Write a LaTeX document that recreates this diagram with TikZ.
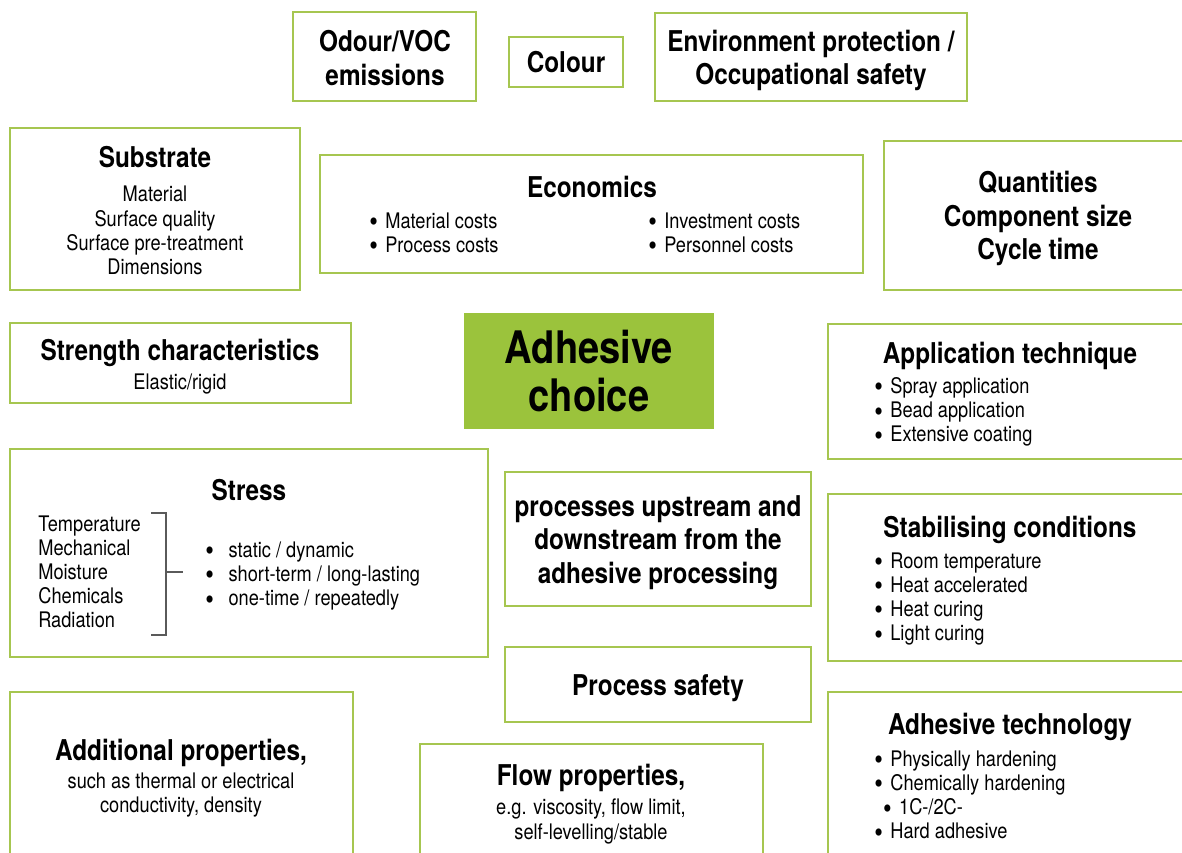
\documentclass[tikz,border=0pt]{standalone}
\usepackage{fontspec}
\setmainfont{TeX Gyre Heros}[FakeStretch=0.85]
\usetikzlibrary{fit}
\definecolor{boxgreen}{RGB}{166,198,80}
\definecolor{fillgreen}{RGB}{155,195,60}
\definecolor{bracketgray}{RGB}{90,90,90}
\newcommand{\mytitlefont}{\fontsize{16.3}{18.9}\selectfont\bfseries}
\newcommand{\mybodyfont}{\fontsize{12.2}{13.75}\selectfont}
\newcommand{\mybigfont}{\fontsize{25.5}{27.2}\selectfont\bfseries}
\newcommand{\mybul}{\smash{\raisebox{-0.3ex}{\scalebox{1.35}{\textbullet}}}}
\newcommand{\bsp}{\hspace{4.2pt}}
\tikzset{
  box/.style={draw=boxgreen, line width=1.1pt, inner sep=0pt},
  fillbox/.style={fill=fillgreen, inner sep=0pt},
  ttl/.style={font=\mytitlefont, align=center, inner sep=0pt},
  big/.style={font=\mybigfont, align=center, inner sep=0pt},
  txt/.style={font=\mybodyfont, align=center, inner sep=0pt},
  lst/.style={font=\mybodyfont, align=left, anchor=west, inner sep=0pt},
  bracket/.style={draw=bracketgray, line width=0.7pt},
}
\begin{document}
\begin{tikzpicture}[x=0.02cm,y=-0.02cm]
\useasboundingbox (0,0) rectangle (1182,852);
\clip (0,0) rectangle (1182,852);
% boxes
\node[box, fit={(293,12) (476,101)}] (odour) {};
\node[box, fit={(509,37) (623,87)}] (colour) {};
\node[box, fit={(655,13) (967,101)}] (env) {};
\node[box, fit={(10,128) (300,290)}] (substrate) {};
\node[box, fit={(320,155) (863,273)}] (econ) {};
\node[box, fit={(884,141) (1195,290)}] (quant) {};
\node[box, fit={(10,323) (351,403)}] (strength) {};
\node[fillbox, fit={(464,313) (714,429)}] (choice) {};
\node[box, fit={(828,324) (1195,459)}] (appl) {};
\node[box, fit={(10,449) (488,657)}] (stress) {};
\node[box, fit={(505,472) (811,606)}] (proc) {};
\node[box, fit={(828,494) (1195,661)}] (stab) {};
\node[box, fit={(505,647) (811,722)}] (safety) {};
\node[box, fit={(828,692) (1195,870)}] (adtech) {};
\node[box, fit={(10,692) (353,870)}] (addprop) {};
\node[box, fit={(420,744) (763,870)}] (flow) {};
% texts
\node[ttl] (odourT) at (385,58) {Odour/VOC\\emissions};
\node[ttl] (colourT) at (566,62) {Colour};
\node[ttl] (envT) at (811,60.5) {Environment protection /\\Occupational safety};
\node[ttl] (subT) at (155,157) {Substrate};
\node[txt] (subB) at (155,230.5) {Material\\Surface quality\\Surface pre-treatment\\Dimensions};
\node[ttl] (econT) at (592,187) {Economics};
\node[lst] (econA) at (369,232.5) {\mybul\bsp Material costs\\\mybul\bsp Process costs};
\node[lst] (econB) at (648,232.5) {\mybul\bsp Investment costs\\\mybul\bsp Personnel costs};
\node[ttl] (quantT) at (1038,218.5) {Quantities\\Component size\\Cycle time};
\node[ttl] (strT) at (180,353) {Strength characteristics};
\node[txt] (strB) at (180,384) {Elastic/rigid};
\node[big] (choiceT) at (589,371) {Adhesive\\choice};
\node[ttl] (applT) at (1010,356) {Application technique};
\node[lst] (applB) at (874,412) {\mybul\bsp Spray application\\\mybul\bsp Bead application\\\mybul\bsp Extensive coating};
\node[ttl] (stressT) at (249,490) {Stress};
\node[lst] (stressA) at (38,572) {Temperature\\Mechanical\\Moisture\\Chemicals\\Radiation};
\node[lst] (stressB) at (205,576) {\mybul\hspace{8.3pt}static / dynamic\\\mybul\hspace{8.3pt}short-term / long-lasting\\\mybul\hspace{8.3pt}one-time / repeatedly};
\draw[bracket] (151,513) -- (166,513) -- (166,635) -- (151,635);
\draw[bracket] (166,572) -- (183,572);
\node[ttl] (procT) at (658,542.5) {processes upstream and\\downstream from the\\adhesive processing};
\node[ttl] (stabT) at (1010,530) {Stabilising conditions};
\node[lst] (stabB) at (874,599) {\mybul\bsp Room temperature\\\mybul\bsp Heat accelerated\\\mybul\bsp Heat curing\\\mybul\bsp Light curing};
\node[ttl] (safeT) at (658,688) {Process safety};
\node[ttl] (adtT) at (1010,727) {Adhesive technology};
\node[lst] (adtB) at (874,795) {\mybul\bsp Physically hardening\\\mybul\bsp Chemically hardening\\\hspace*{5pt}\mybul\bsp 1C-/2C-\\\mybul\bsp Hard adhesive};
\node[ttl] (addT) at (181,753) {Additional properties,};
\node[txt] (addB) at (181,795) {such as thermal or electrical\\conductivity, density};
\node[ttl] (flowT) at (591,778) {Flow properties,};
\node[txt] (flowB) at (591,821.5) {e.g. viscosity, flow limit,\\self-levelling/stable};
\end{tikzpicture}
\end{document}
